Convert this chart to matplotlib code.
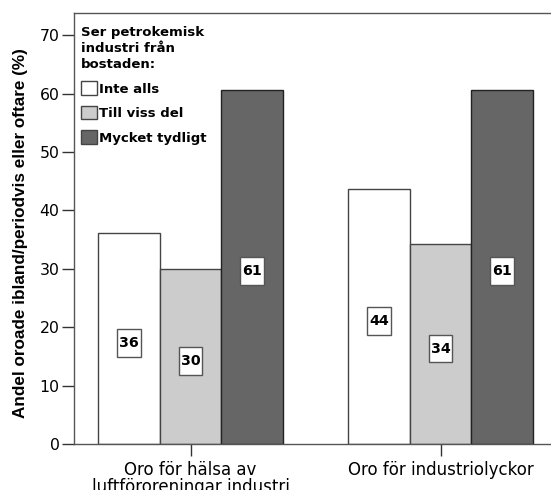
import matplotlib
matplotlib.use("Agg")
import matplotlib.pyplot as plt
import numpy as np
from matplotlib.patches import Patch
from matplotlib.path import Path

categories = ["Oro för hälsa av\nluftföroreningar industri", "Oro för industriolyckor"]
series_names = ["Inte alls", "Till viss del", "Mycket tydligt"]
values = {
    "Inte alls": [36.1, 43.7],
    "Till viss del": [29.9, 34.2],
    "Mycket tydligt": [60.7, 60.7],
}
labels = {
    "Inte alls": ["36", "44"],
    "Till viss del": ["30", "34"],
    "Mycket tydligt": ["61", "61"],
}
colors = ["#ffffff", "#cccccc", "#666666"]
edgecolors = ["#444444", "#444444", "#222222"]
yticks = [0, 10, 20, 30, 40, 50, 60, 70]


def label_box(x0, y0, width, height, mutation_size):
    px = 0.14 * mutation_size
    py = 0.48 * mutation_size
    x0, y0 = x0 - px, y0 - py
    x1, y1 = x0 + width + 2 * px, y0 + height + 2 * py
    return Path([(x0, y0), (x1, y0), (x1, y1), (x0, y1), (x0, y0)],
                [Path.MOVETO, Path.LINETO, Path.LINETO, Path.LINETO, Path.CLOSEPOLY])


fig = plt.figure(figsize=(5.51, 4.9), dpi=100)
ax = fig.add_axes([74/551, 1-444/490, 1-74/551, (444-13)/490])

centers = np.array([0.0, 4.05])
w = 1.0
for i, name in enumerate(series_names):
    xs = centers + (i - 1) * w
    vals = values[name]
    ax.bar(xs, vals, width=w, color=colors[i], edgecolor=edgecolors[i], linewidth=1.0, zorder=2)
    for x, v, lab in zip(xs, vals, labels[name]):
        ax.text(x, v / 2 - 0.75, lab, ha="center", va="center", fontsize=10.3, fontweight="bold",
                family="DejaVu Sans",
                bbox=dict(boxstyle=label_box, facecolor="white", edgecolor="#555555", linewidth=1.0),
                zorder=3)

ax.set_xlim(-1.89, 5.84)
ax.set_ylim(0, 73.8)
ax.set_yticks(yticks)
ax.set_yticklabels([str(t) for t in yticks], family="DejaVu Sans", fontsize=11.3)
ax.set_xticks(centers)
ax.set_xticklabels(categories, family="DejaVu Sans", fontsize=12, linespacing=0.9)
ax.tick_params(axis="both", direction="out", length=8.5, width=1, color="#333333", pad=2)
ax.tick_params(axis="x", pad=4)
for s in ["left", "top", "bottom"]:
    ax.spines[s].set_color("#555555")
    ax.spines[s].set_linewidth(1.0)
ax.spines["right"].set_visible(False)

ax.set_ylabel("Andel oroade ibland/periodvis eller oftare (%)", family="Liberation Sans",
              fontweight="bold", fontsize=12.3)
ax.yaxis.set_label_coords(-0.0964, 0.49)

handles = [Patch(facecolor=c, edgecolor="#444444", linewidth=1.0) for c in colors]
leg = ax.legend(handles, series_names, title="Ser petrokemisk\nindustri från\nbostaden:",
                loc="upper left", bbox_to_anchor=(0.0, 0.985), frameon=False,
                prop=dict(family="DejaVu Sans", weight="bold", size=9.5),
                handlelength=1.25, handleheight=1.2, handletextpad=0.15,
                labelspacing=0.78, borderpad=0.3, borderaxespad=0.2)
leg.get_title().set_fontweight("bold")
leg.get_title().set_fontsize(9.5)
leg.get_title().set_family("DejaVu Sans")
leg.get_title().set_linespacing(1.3)
leg._legend_box.align = "left"

fig.savefig("out.png", dpi=100)
